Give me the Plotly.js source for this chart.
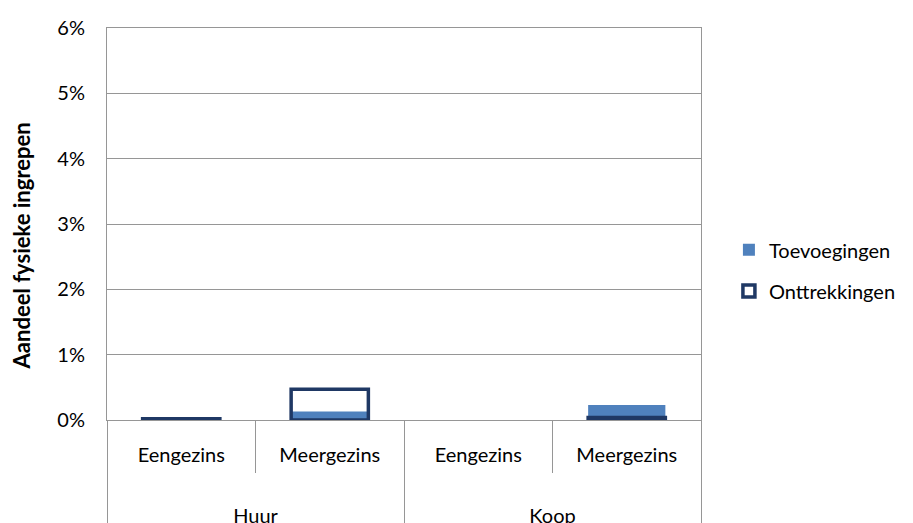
<!DOCTYPE html>
<html><head><meta charset="utf-8">
<script src="https://cdn.plot.ly/plotly-3.0.1.min.js"></script>
<style>html,body{margin:0;padding:0;background:#fff}#c{width:913px;height:523px}</style>
</head><body><div id="c"></div>
<script>
const groups = ["Huur", "Huur", "Koop", "Koop"];
const types = ["Eengezins", "Meergezins", "Eengezins", "Meergezins"];
const toevoegingen = [0.0, 0.13, 0.0, 0.23];
const onttrekkingen = [0.02, 0.47, null, 0.04];
const yTicks = [0, 1, 2, 3, 4, 5, 6];
const yTitle = "Aandeel fysieke ingrepen";

const font = "Lato, 'Open Sans', sans-serif";
const xGroups = groups.map(g => '<br><br>' + g);
const traces = [
  {type: 'bar', name: 'Toevoegingen', x: [xGroups, types], y: toevoegingen, width: 0.52,
   marker: {color: '#4F81BD', line: {width: 0}}, legend: 'legend'},
  {type: 'bar', name: 'Onttrekkingen', x: [xGroups, types], y: onttrekkingen, width: 0.52,
   marker: {color: 'rgba(255,255,255,0)', line: {color: '#1F3864', width: 3.5}}, legend: 'legend2'}
];
const layout = {
  width: 913, height: 523,
  margin: {l: 107, r: 191, t: 28, b: 103},
  paper_bgcolor: '#fff', plot_bgcolor: '#fff',
  barmode: 'overlay',
  font: {family: font, size: 20, color: '#000'},
  xaxis: {type: 'multicategory', showline: true, linecolor: '#969696', linewidth: 1, mirror: true,
          ticks: 'outside', ticklen: 52, tickcolor: '#969696', tickson: 'boundaries',
          ticklabelstandoff: 17,
          showdividers: true, dividercolor: '#969696', dividerwidth: 1,
          tickfont: {family: font, size: 20, color: '#000'}},
  yaxis: {range: [0, 6], tickvals: yTicks, ticktext: yTicks.map(v => v + '%'),
          showgrid: true, gridcolor: '#969696', gridwidth: 1,
          showline: true, linecolor: '#969696', mirror: true, zeroline: false,
          ticks: '', ticklabelstandoff: 17,
          tickfont: {family: font, size: 20, color: '#000'},
          title: {text: '<b>' + yTitle + '\u00a0'.repeat(8) + '</b>', font: {family: font, size: 22, color: '#000'}, standoff: 20}},
  legend: {x: 1.047, xanchor: 'left', y: 0.434, yanchor: 'middle', bgcolor: 'rgba(0,0,0,0)',
           font: {family: font, size: 20, color: '#000'}},
  legend2: {x: 1.047, xanchor: 'left', y: 0.329, yanchor: 'middle', bgcolor: 'rgba(0,0,0,0)',
           font: {family: font, size: 20, color: '#000'}},
  showlegend: true
};
Plotly.newPlot('c', traces, layout, {displayModeBar: false, staticPlot: true});
</script></body></html>
